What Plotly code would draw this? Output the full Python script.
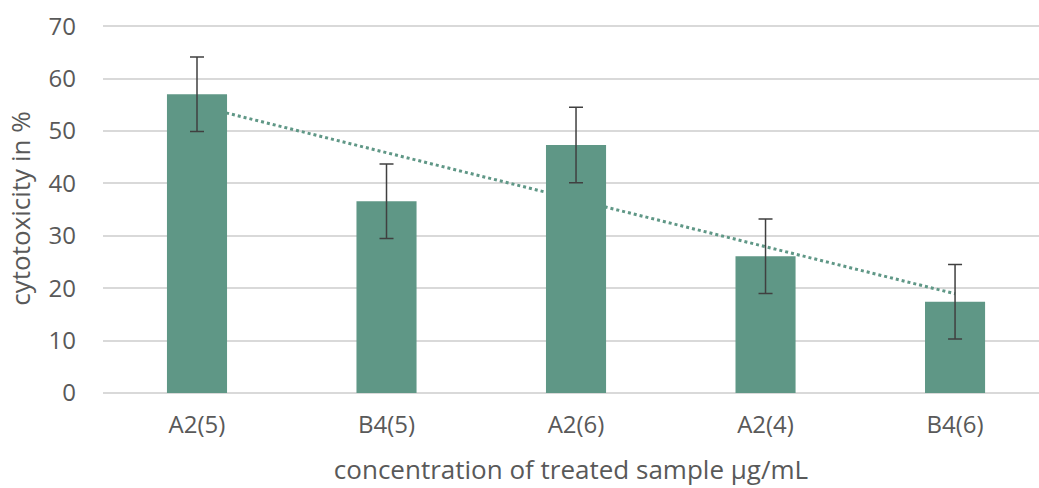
import numpy as np
import plotly.graph_objects as go

categories = ["A2(5)", "B4(5)", "A2(6)", "A2(4)", "B4(6)"]
cytotoxicity = [57.0, 36.6, 47.3, 26.1, 17.4]
error = [7.1, 7.1, 7.2, 7.1, 7.1]
y_ticks = [0, 10, 20, 30, 40, 50, 60, 70]

bar_color = "#5f9786"
text_color = "#595959"
font_family = "Open Sans, Lato, sans-serif"

# linear trendline (like Excel) fitted on the bar values
xi = np.arange(len(categories))
slope, intercept = np.polyfit(xi, cytotoxicity, 1)
trend = slope * xi + intercept

fig = go.Figure()

# trendline on the base axes (drawn beneath the bars)
fig.add_trace(go.Scatter(
    x=categories, y=trend, mode="lines",
    line=dict(color=bar_color, width=3, dash="dot"),
    xaxis="x", yaxis="y", showlegend=False, hoverinfo="skip",
))

fig.add_trace(go.Bar(
    x=categories, y=cytotoxicity, width=0.317,
    marker=dict(color=bar_color, line=dict(width=0)),
    error_y=dict(type="data", array=error, visible=True,
                 color="#404040", thickness=1.5, width=7),
    xaxis="x2", yaxis="y2", showlegend=False,
))

x_range = [-0.496, 4.443]
y_range = [0, 70.4]

fig.update_layout(
    width=1039, height=488,
    margin=dict(l=103, r=0, t=24, b=95),
    paper_bgcolor="white", plot_bgcolor="white",
    font=dict(family=font_family, color=text_color, size=24),
    xaxis=dict(
        type="category", range=x_range, showgrid=False, zeroline=False,
        showline=False, ticks="", tickfont=dict(size=24, color=text_color),
        ticklabelstandoff=15,
        title=dict(text="concentration of treated sample µg/mL",
                   font=dict(size=26, color=text_color), standoff=21),
    ),
    yaxis=dict(
        range=y_range, tickvals=y_ticks, showgrid=True, gridcolor="#d9d9d9",
        gridwidth=1.5, zeroline=True, zerolinecolor="#d9d9d9", zerolinewidth=1.5,
        showline=False, ticks="", tickfont=dict(size=24, color=text_color),
        ticklabelstandoff=26,
        title=dict(text="cytotoxicity in %",
                   font=dict(size=26, color=text_color), standoff=10),
    ),
    xaxis2=dict(type="category", range=x_range, overlaying="x",
                showgrid=False, zeroline=False, showticklabels=False,
                showline=False, ticks="", matches="x"),
    yaxis2=dict(range=y_range, overlaying="y", showgrid=False,
                zeroline=False, showticklabels=False, showline=False,
                ticks="", matches="y"),
)

fig.write_html("out.html")
